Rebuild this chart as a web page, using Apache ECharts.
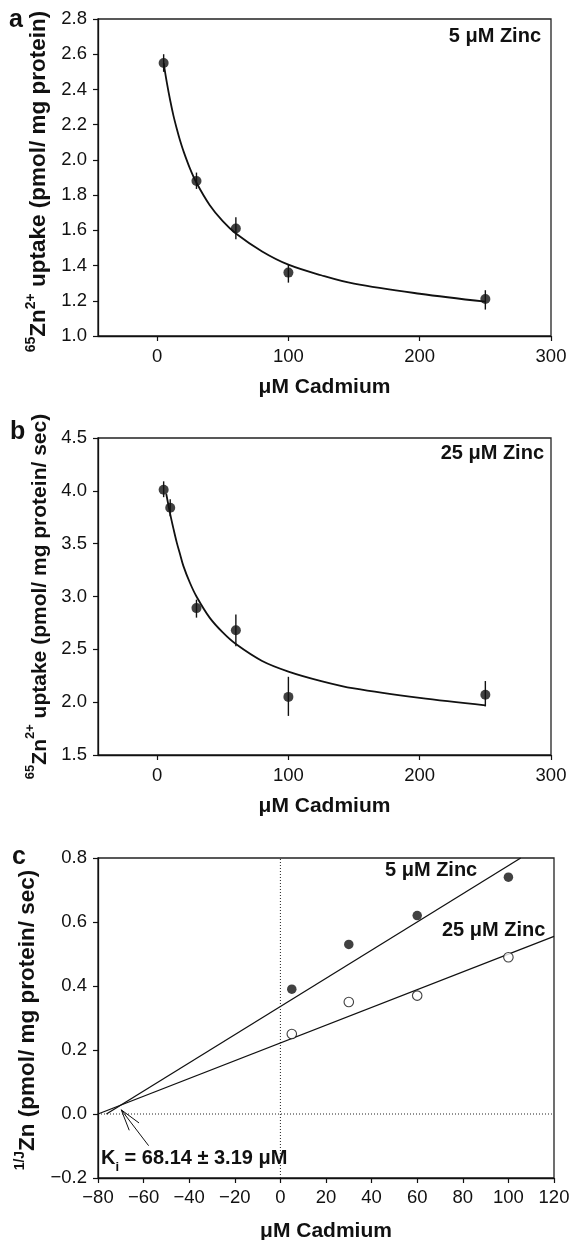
<!DOCTYPE html>
<html>
<head>
<meta charset="utf-8">
<script src="https://cdn.jsdelivr.net/npm/echarts@6/dist/echarts.min.js"></script>
<style>
html,body{margin:0;padding:0;background:#fff;}
#chart{width:572px;height:1240px;}
</style>
</head>
<body>
<div id="chart"></div>
<script>
// ---------- Panel a: 5 µM Zinc ----------
const aPoints = [[5, 2.55], [30, 1.88], [60, 1.61], [100, 1.36], [250, 1.21]];
const aErrors = [[5, 2.50, 2.60], [30, 1.835, 1.928], [60, 1.55, 1.674], [100, 1.303, 1.403], [250, 1.15, 1.26]];
const aCurve = [[5, 2.55], [7.5, 2.436], [10, 2.337], [12.5, 2.25], [15, 2.177], [17.5, 2.11], [20, 2.052], [25, 1.952], [30, 1.87], [40, 1.744], [50, 1.652], [60, 1.582], [80, 1.48], [100, 1.405], [125, 1.345], [150, 1.297], [200, 1.24], [250, 1.195]];

// ---------- Panel b: 25 µM Zinc ----------
const bPoints = [[5, 4.01], [10, 3.84], [30, 2.89], [60, 2.68], [100, 2.05], [250, 2.07]];
const bErrors = [[5, 3.94, 4.09], [10, 3.76, 3.92], [30, 2.80, 2.97], [60, 2.53, 2.83], [100, 1.87, 2.24], [250, 1.96, 2.20]];
const bCurve = [[7, 3.97], [10, 3.78], [12.5, 3.64], [15, 3.51], [17.5, 3.40], [20, 3.29], [25, 3.13], [30, 3.00], [40, 2.80], [50, 2.66], [60, 2.55], [80, 2.39], [100, 2.29], [125, 2.20], [150, 2.13], [200, 2.04], [250, 1.97]];

// ---------- Panel c: Dixon plot ----------
const cZinc5 = [[5, 0.39], [30, 0.53], [60, 0.62], [100, 0.74]];
const cZinc25 = [[5, 0.25], [30, 0.35], [60, 0.37], [100, 0.49]];
const cLine5 = [[-76.3, 0], [105.4, 0.8]];
const cLine25 = [[-80, 0], [120, 0.555]];
const cZeroV = [[0, -0.2], [0, 0.8]];
const cZeroH = [[-80, 0], [120, 0]];
const cArrowShaft = [[-57.8, -0.099], [-69.8, 0.013]];
const cArrowHead = [[-66.3, -0.051], [-69.8, 0.013], [-62.0, -0.028]];

// ---------- Tick labels ----------
const abXTicks = [0, 100, 200, 300];

const FONT = 'Liberation Sans, Arial, Helvetica, sans-serif';
const fmtMinus = v => String(v).replace('-', '\u2212');
const fmt1 = v => (Math.round(v * 10) / 10).toFixed(1).replace('-', '\u2212');

function baseX(gi, extra) {
  return Object.assign({
    type: 'value', gridIndex: gi,
    nameLocation: 'middle',
    nameTextStyle: { fontFamily: FONT, fontWeight: 'bold', fontSize: 21, color: '#111' },
    axisLine: { show: true, onZero: false, lineStyle: { color: '#111', width: 1.3 } },
    axisTick: { show: true, inside: false, length: 5, lineStyle: { color: '#111', width: 1.2 } },
    axisLabel: { fontFamily: FONT, fontSize: 18.5, color: '#111', margin: 10 },
    splitLine: { show: false }
  }, extra);
}
function baseY(gi, extra) {
  return Object.assign({
    type: 'value', gridIndex: gi,
    nameLocation: 'middle', nameRotate: 90,
    axisLine: { show: true, onZero: false, lineStyle: { color: '#111', width: 1.3 } },
    axisTick: { show: true, inside: false, length: 5, lineStyle: { color: '#111', width: 1.2 } },
    axisLabel: { fontFamily: FONT, fontSize: 18.5, color: '#111', margin: 11 },
    splitLine: { show: false }
  }, extra);
}
function titleRich(size) {
  return {
    b: { fontFamily: FONT, fontWeight: 'bold', fontSize: size, color: '#111', verticalAlign: 'bottom', lineHeight: 26 },
    sup: { fontFamily: FONT, fontWeight: 'bold', fontSize: Math.round(size * 0.62), color: '#111', verticalAlign: 'top', lineHeight: 26 }
  };
}

const errRender = (params, api) => {
  const x = api.value(0), lo = api.value(1), hi = api.value(2);
  const p1 = api.coord([x, lo]);
  const p2 = api.coord([x, hi]);
  return { type: 'line', shape: { x1: p1[0], y1: p1[1], x2: p2[0], y2: p2[1] }, style: { stroke: '#111', lineWidth: 1.4 } };
};

const gridBase = { show: true, borderColor: '#222', borderWidth: 1.3, backgroundColor: 'transparent', containLabel: false, outerBoundsMode: 'none' };

const option = {
  backgroundColor: '#fff',
  animation: false,
  grid: [
    Object.assign({ left: 98, top: 19, width: 453, height: 317 }, gridBase),
    Object.assign({ left: 98, top: 438, width: 453, height: 317 }, gridBase),
    Object.assign({ left: 98, top: 858, width: 456, height: 320 }, gridBase)
  ],
  xAxis: [
    baseX(0, { min: -45, max: 300, name: '\u03bcM Cadmium', nameGap: 41,
      axisTick: { show: true, length: 5, customValues: abXTicks, lineStyle: { color: '#111', width: 1.2 } },
      axisLabel: { fontFamily: FONT, fontSize: 18.5, color: '#111', margin: 11, customValues: abXTicks } }),
    baseX(1, { min: -45, max: 300, name: '\u03bcM Cadmium', nameGap: 41,
      axisTick: { show: true, length: 5, customValues: abXTicks, lineStyle: { color: '#111', width: 1.2 } },
      axisLabel: { fontFamily: FONT, fontSize: 18.5, color: '#111', margin: 11, customValues: abXTicks } }),
    baseX(2, { min: -80, max: 120, interval: 20, name: '\u03bcM Cadmium', nameGap: 43,
      axisLabel: { fontFamily: FONT, fontSize: 18.5, color: '#111', margin: 10, formatter: fmtMinus } })
  ],
  yAxis: [
    baseY(0, { min: 1.0, max: 2.8, interval: 0.2, nameGap: 46,
      name: '{sup|65}{b|Zn}{sup|2+}{b| uptake (pmol/ mg protein)}',
      nameTextStyle: { rich: titleRich(22.5), padding: [0, 8, 0, 0] },
      axisLabel: { fontFamily: FONT, fontSize: 18.5, color: '#111', margin: 11, formatter: fmt1 } }),
    baseY(1, { min: 1.5, max: 4.5, interval: 0.5, nameGap: 46,
      name: '{sup|65}{b|Zn}{sup|2+}{b| uptake (pmol/ mg protein/ sec)}',
      nameTextStyle: { rich: titleRich(21) },
      axisLabel: { fontFamily: FONT, fontSize: 18.5, color: '#111', margin: 11, formatter: fmt1 } }),
    baseY(2, { min: -0.2, max: 0.8, interval: 0.2, nameGap: 46,
      name: '{sup|1/J}{b|Zn (pmol/ mg protein/ sec)}',
      nameTextStyle: { rich: titleRich(22.5), padding: [0, 4, 0, 0] },
      axisLabel: { fontFamily: FONT, fontSize: 18.5, color: '#111', margin: 11, formatter: fmt1 } })
  ],
  series: [
    // Panel a
    { type: 'line', xAxisIndex: 0, yAxisIndex: 0, data: aCurve, smooth: 0.35, showSymbol: false, lineStyle: { color: '#111', width: 1.8 }, z: 2 },
    { type: 'custom', xAxisIndex: 0, yAxisIndex: 0, data: aErrors, renderItem: errRender, encode: { x: 0, y: [1, 2] }, z: 3 },
    { type: 'scatter', xAxisIndex: 0, yAxisIndex: 0, data: aPoints, symbol: 'circle', symbolSize: 10, itemStyle: { color: '#111' }, z: 4 },
    // Panel b
    { type: 'line', xAxisIndex: 1, yAxisIndex: 1, data: bCurve, smooth: 0.35, showSymbol: false, lineStyle: { color: '#111', width: 1.8 }, z: 2 },
    { type: 'custom', xAxisIndex: 1, yAxisIndex: 1, data: bErrors, renderItem: errRender, encode: { x: 0, y: [1, 2] }, z: 3 },
    { type: 'scatter', xAxisIndex: 1, yAxisIndex: 1, data: bPoints, symbol: 'circle', symbolSize: 10, itemStyle: { color: '#111' }, z: 4 },
    // Panel c
    { type: 'line', xAxisIndex: 2, yAxisIndex: 2, data: cZeroV, showSymbol: false, lineStyle: { color: '#222', width: 1, type: [1, 2] }, z: 1 },
    { type: 'line', xAxisIndex: 2, yAxisIndex: 2, data: cZeroH, showSymbol: false, lineStyle: { color: '#222', width: 1, type: [1, 2] }, z: 1 },
    { type: 'line', xAxisIndex: 2, yAxisIndex: 2, data: cLine5, showSymbol: false, lineStyle: { color: '#111', width: 1.3 }, z: 2 },
    { type: 'line', xAxisIndex: 2, yAxisIndex: 2, data: cLine25, showSymbol: false, lineStyle: { color: '#111', width: 1.3 }, z: 2 },
    { type: 'line', xAxisIndex: 2, yAxisIndex: 2, data: cArrowShaft, showSymbol: false, lineStyle: { color: '#111', width: 1 }, z: 2 },
    { type: 'line', xAxisIndex: 2, yAxisIndex: 2, data: cArrowHead, showSymbol: false, lineStyle: { color: '#111', width: 1 }, z: 2 },
    { type: 'scatter', xAxisIndex: 2, yAxisIndex: 2, data: cZinc5, symbol: 'circle', symbolSize: 9.5, itemStyle: { color: '#111' }, z: 4 },
    { type: 'scatter', xAxisIndex: 2, yAxisIndex: 2, data: cZinc25, symbol: 'circle', symbolSize: 9.5, itemStyle: { color: '#fff', borderColor: '#111', borderWidth: 1.1 }, z: 4 }
  ],
  graphic: [
    { type: 'text', left: 9, top: 8, style: { text: 'a', font: 'bold 25px ' + FONT, fill: '#111' } },
    { type: 'text', left: 10, top: 420, style: { text: 'b', font: 'bold 25px ' + FONT, fill: '#111' } },
    { type: 'text', left: 12, top: 845, style: { text: 'c', font: 'bold 25px ' + FONT, fill: '#111' } },
    { type: 'text', right: 31, top: 26, style: { text: '5 \u03bcM Zinc', font: 'bold 20px ' + FONT, fill: '#111' } },
    { type: 'text', right: 28, top: 443, style: { text: '25 \u03bcM Zinc', font: 'bold 20px ' + FONT, fill: '#111' } },
    { type: 'text', left: 385, top: 860, style: { text: '5 \u03bcM Zinc', font: 'bold 20px ' + FONT, fill: '#111' } },
    { type: 'text', left: 442, top: 920, style: { text: '25 \u03bcM Zinc', font: 'bold 20px ' + FONT, fill: '#111' } },
    { type: 'text', left: 101, top: 1148, style: {
      text: '{b|K}{sub|i}{b| = 68.14 \u00b1 3.19 \u03bcM}',
      rich: {
        b: { fontFamily: FONT, fontWeight: 'bold', fontSize: 20, fill: '#111', verticalAlign: 'top', lineHeight: 26 },
        sub: { fontFamily: FONT, fontWeight: 'bold', fontSize: 13, fill: '#111', verticalAlign: 'bottom', lineHeight: 26 }
      } } }
  ]
};

const chart = echarts.init(document.getElementById('chart'), null, { renderer: 'canvas' });
chart.setOption(option);
</script>
</body>
</html>
